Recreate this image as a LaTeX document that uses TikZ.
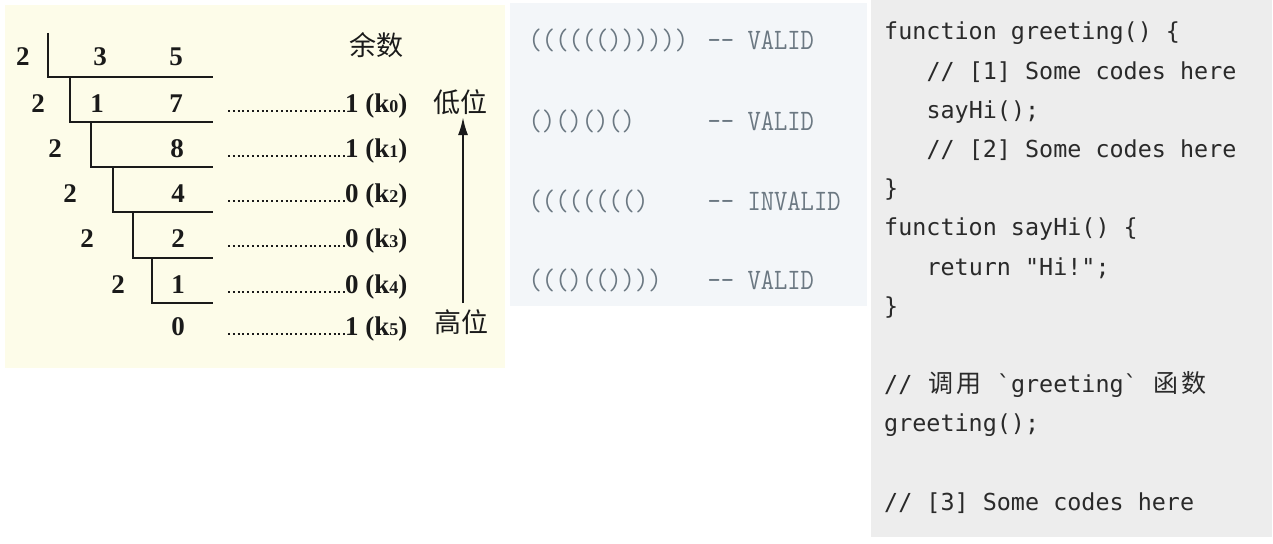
\documentclass[tikz,border=0pt]{standalone}
\usepackage{fontspec}
\usepackage{graphicx}
\usetikzlibrary{arrows.meta}
\newfontfamily\lserif{Liberation Serif}
\newfontfamily\cjkfont{Noto Sans CJK SC}
\newfontfamily\codefont{DejaVu Sans Mono}
\definecolor{creambg}{HTML}{FDFCE9}
\definecolor{midbg}{HTML}{F3F6F9}
\definecolor{codebg}{HTML}{EDEDED}
\definecolor{lefttxt}{HTML}{1A1A1A}
\definecolor{midtxt}{HTML}{6B7882}
\definecolor{codetxt}{HTML}{2A2A2A}
\newcommand\cjkc[1]{\makebox[28.2pt]{\cjkfont\fontsize{25}{25}\selectfont #1}}
\newcommand\subk[1]{{\fontsize{18}{18}\selectfont #1}}
\newcommand\vs[1]{\scalebox{1}[1.15]{#1}}
\begin{document}
\begin{tikzpicture}[x=1pt,y=-1pt,
  num/.style={font=\lserif\bfseries\fontsize{27}{27}\selectfont, text=lefttxt, inner sep=0pt, anchor=base},
  rem/.style={font=\lserif\bfseries\fontsize{27}{27}\selectfont, text=lefttxt, inner sep=0pt, anchor=base west},
  hanzi/.style={font=\cjkfont\fontsize{27}{27}\selectfont, text=lefttxt, inner sep=0pt},
  divline/.style={draw=lefttxt, line width=2.3pt},
  dots/.style={draw=lefttxt, line width=2pt, dash pattern=on 2pt off 2.8pt},
  arr/.style={draw=lefttxt, line width=2.2pt, -{Latex[length=18pt,width=10pt]}},
  mid/.style={font=\ttfamily\fontsize{25.8}{26}\selectfont, text=midtxt, inner sep=0pt, anchor=base west},
  code/.style={font=\codefont\fontsize{23.4}{24}\selectfont, text=codetxt, inner sep=0pt, anchor=base west}]
\useasboundingbox (0,0) rectangle (1273,543);
\fill[white] (0,0) rectangle (1273,543);
\fill[creambg] (5,5) rectangle (505,368);
\fill[midbg] (510,3) rectangle (867,306);
\fill[codebg] (871,0) rectangle (1272,537);

% ---- left panel: division by 2 ----
\draw[divline] (48,33) -- (48,77) -- (213,77);
\draw[divline] (70,77) -- (70,122) -- (213,122);
\draw[divline] (91,122) -- (91,167) -- (213,167);
\draw[divline] (113,167) -- (113,212) -- (213,212);
\draw[divline] (133,212) -- (133,258) -- (213,258);
\draw[divline] (152,258) -- (152,303) -- (213,303);

\node[num] (a2) at (23,66) {2};
\node[num] (a3) at (100,66) {3};
\node[num] (a5) at (176,66) {5};
\node[num] (b2) at (38,112) {2};
\node[num] (b1) at (97,112) {1};
\node[num] (b7) at (176,112) {7};
\node[num] (c2) at (55,157) {2};
\node[num] (c8) at (177,157) {8};
\node[num] (d2) at (70,202) {2};
\node[num] (d4) at (178,202) {4};
\node[num] (e2) at (87,247) {2};
\node[num] (e2b) at (178,247) {2};
\node[num] (f2) at (118,293) {2};
\node[num] (f1) at (178,293) {1};
\node[num] (g0) at (178,335) {0};

\node[hanzi] (yushu) at (376,45) {余数};
\node[rem] (r0) at (345,112) {1 (k\subk{0})};
\node[rem] (r1) at (345,157) {1 (k\subk{1})};
\node[rem] (r2) at (345,202) {0 (k\subk{2})};
\node[rem] (r3) at (345,247) {0 (k\subk{3})};
\node[rem] (r4) at (345,293) {0 (k\subk{4})};
\node[rem] (r5) at (345,335) {1 (k\subk{5})};
\node[hanzi] (diwei) at (460,102) {低位};
\node[hanzi] (gaowei) at (461,322) {高位};

\coordinate (ds0) at (228,111);
\coordinate (ds1) at (228,156);
\coordinate (ds2) at (228,201);
\coordinate (ds3) at (228,246);
\coordinate (ds4) at (228,292);
\coordinate (ds5) at (228,334);
\foreach \i in {0,...,5}{\draw[dots] (ds\i) -- (ds\i -| r\i.west);}

\coordinate (abot) at (463,303);
\coordinate (atop) at (463,117);
\draw[arr] (abot) -- (atop);

% ---- middle panel: brackets ----
\node[mid] (p1) at (528.5,50) {\vs{(((((())))))}};
\node[mid] (s1) at (707.5,50) {\vs{-{}- VALID}};
\node[mid] (p2) at (528.5,130) {\vs{()()()()}};
\node[mid] (s2) at (707.5,130) {\vs{-{}- VALID}};
\node[mid] (p3) at (528.5,210) {\vs{(((((((()}};
\node[mid] (s3) at (707.5,210) {\vs{-{}- INVALID}};
\node[mid] (p4) at (528.5,289) {\vs{((()(())))}};
\node[mid] (s4) at (707.5,289) {\vs{-{}- VALID}};

% ---- right panel: code ----
\node[code] (l0) at (884,40) {function greeting() \{};
\node[code] (l1) at (926.3,79.2) {// [1] Some codes here};
\node[code] (l2) at (926.3,118.3) {sayHi();};
\node[code] (l3) at (926.3,157.5) {// [2] Some codes here};
\node[code] (l4) at (884,196.7) {\}};
\node[code] (l5) at (884,235.9) {function sayHi() \{};
\node[code] (l6) at (926.3,275) {return "Hi!";};
\node[code] (l7) at (884,314.2) {\}};
\node[code] (l9) at (884,392.5) {// \cjkc{调}\cjkc{用} \symbol{96}greeting\symbol{96} \cjkc{函}\cjkc{数}};
\node[code] (l10) at (884,431.7) {greeting();};
\node[code] (l12) at (884,510) {// [3] Some codes here};
\end{tikzpicture}
\end{document}
